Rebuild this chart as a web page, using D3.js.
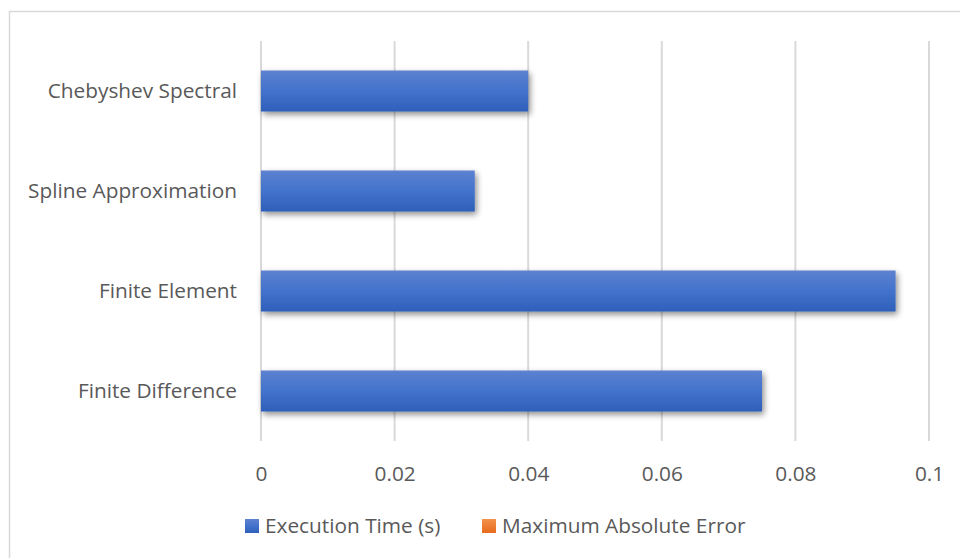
<!DOCTYPE html>
<html>
<head>
<meta charset="utf-8">
<script src="https://cdn.jsdelivr.net/npm/d3@7/dist/d3.min.js"></script>
<style>
  html, body { margin: 0; padding: 0; background: #fff; }
  svg { display: block; }
  text { font-family: "Open Sans", Lato, sans-serif; fill: #595959; }
</style>
</head>
<body>
<svg id="chart" width="960" height="558"></svg>
<script>
// Solver comparison: execution time and maximum absolute error per method
const methods = ["Chebyshev Spectral", "Spline Approximation", "Finite Element", "Finite Difference"];
const executionTime = [0.040, 0.032, 0.095, 0.075];
const maxAbsError = [0.0000012, 0.0000085, 0.0000031, 0.0000047];
const xTicks = [0, 0.02, 0.04, 0.06, 0.08, 0.1];
const seriesNames = ["Execution Time (s)", "Maximum Absolute Error"];

const FONT = "'Open Sans', Lato, sans-serif";
const svg = d3.select("#chart");
const W = 960, H = 558;
const plot = { left: 261, right: 929, top: 41, bottom: 441 };

// chart frame
svg.append("path")
  .attr("d", `M9.5,${H} L9.5,11.5 L${W},11.5`)
  .attr("fill", "none").attr("stroke", "#d9d9d9").attr("stroke-width", 1.5);

const defs = svg.append("defs");
const grad = defs.append("linearGradient").attr("id", "barFill")
  .attr("x1", 0).attr("y1", 0).attr("x2", 0).attr("y2", 1);
grad.append("stop").attr("offset", "0%").attr("stop-color", "#5d82d0");
grad.append("stop").attr("offset", "50%").attr("stop-color", "#4272cc");
grad.append("stop").attr("offset", "100%").attr("stop-color", "#2e5fb9");

const gradO = defs.append("linearGradient").attr("id", "errFill")
  .attr("x1", 0).attr("y1", 0).attr("x2", 0).attr("y2", 1);
gradO.append("stop").attr("offset", "0%").attr("stop-color", "#f4914c");
gradO.append("stop").attr("offset", "100%").attr("stop-color", "#e66c1c");

const shadow = defs.append("filter").attr("id", "shadow")
  .attr("x", "-10%").attr("y", "-30%").attr("width", "130%").attr("height", "180%");
shadow.append("feGaussianBlur").attr("in", "SourceAlpha").attr("stdDeviation", 3);
shadow.append("feOffset").attr("dx", 2).attr("dy", 3).attr("result", "blur");
shadow.append("feComponentTransfer").append("feFuncA").attr("type", "linear").attr("slope", 0.45);
const merge = shadow.append("feMerge");
merge.append("feMergeNode");
merge.append("feMergeNode").attr("in", "SourceGraphic");

const x = d3.scaleLinear().domain([0, 0.1]).range([plot.left, plot.right]);
const y = d3.scaleBand().domain(methods).range([plot.top, plot.bottom]).paddingInner(0.59).paddingOuter(0.295);

// vertical gridlines
svg.append("g").selectAll("line").data(xTicks).join("line")
  .attr("x1", d => x(d)).attr("x2", d => x(d))
  .attr("y1", plot.top).attr("y2", plot.bottom)
  .attr("stroke", "#d9d9d9").attr("stroke-width", 2);

// x axis labels
const xAxis = d3.axisBottom(x).tickValues(xTicks).tickSize(0).tickPadding(0)
  .tickFormat(d => d3.format("~g")(d));
const gx = svg.append("g").attr("transform", `translate(0,${plot.bottom + 40})`).call(xAxis);
gx.select(".domain").remove();
gx.selectAll("text").attr("font-size", 20.8).attr("dy", 0).style("font-family", FONT).attr("fill", "#595959");

// category labels
const yAxis = d3.axisLeft(y).tickSize(0).tickPadding(24);
const gy = svg.append("g").attr("transform", `translate(${plot.left},0)`).call(yAxis);
gy.select(".domain").remove();
gy.selectAll("text").attr("font-size", 20.8).style("font-family", FONT).attr("fill", "#595959");

// error series (sits beneath the time bars, too small to show at this scale)
svg.append("g").selectAll("rect").data(methods).join("rect")
  .attr("x", x(0)).attr("y", m => y(m))
  .attr("width", (m, i) => x(maxAbsError[i]) - x(0))
  .attr("height", y.bandwidth())
  .attr("fill", "url(#errFill)").attr("opacity", 0);

// execution time bars
svg.append("g").selectAll("rect").data(methods).join("rect")
  .attr("x", x(0)).attr("y", m => y(m))
  .attr("width", (m, i) => x(executionTime[i]) - x(0))
  .attr("height", y.bandwidth())
  .attr("fill", "url(#barFill)")
  .attr("filter", "url(#shadow)");

// legend
const legendItems = [
  { name: seriesNames[0], fill: "url(#barFill)", sx: 245 },
  { name: seriesNames[1], fill: "url(#errFill)", sx: 482 }
];
const lg = svg.append("g");
const li = lg.selectAll("g").data(legendItems).join("g")
  .attr("transform", d => `translate(${d.sx},519)`);
li.append("rect").attr("width", 14).attr("height", 14).attr("fill", d => d.fill);
li.append("text").attr("x", 20).attr("y", 7).attr("dy", "0.35em")
  .attr("font-size", 20.8).style("font-family", FONT).text(d => d.name);
</script>
</body>
</html>
